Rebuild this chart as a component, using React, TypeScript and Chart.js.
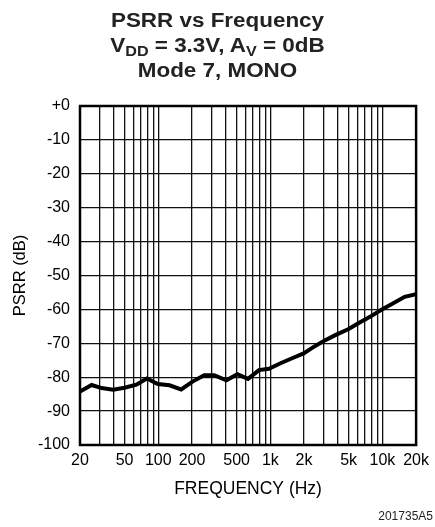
import React, { useEffect, useRef } from "react";
import { Chart, registerables } from "chart.js";

Chart.register(...registerables);

const FREQ_HZ = [20, 25.4, 31.2, 39.5, 50, 63.7, 79, 99, 126, 160, 202, 257, 315, 405, 508, 632, 791, 971, 1233, 1563, 1983, 2400, 3000, 3800, 5000, 6100, 7750, 9800, 12500, 15800, 20000];
const PSRR_DB = [-84.2, -82.3, -83.2, -83.7, -83.1, -82.2, -80.4, -82.0, -82.4, -83.6, -81.3, -79.4, -79.4, -80.9, -79.1, -80.5, -77.9, -77.5, -75.9, -74.4, -73.0, -71.2, -69.3, -67.6, -65.8, -64.1, -62.2, -60.1, -58.2, -56.3, -55.5];

const X_GRID_TICKS = [20, 30, 40, 50, 60, 70, 80, 90, 100, 200, 300, 400, 500, 600, 700, 800, 900, 1000, 2000, 3000, 4000, 5000, 6000, 7000, 8000, 9000, 10000, 20000];
const X_TICK_LABELS: Record<number, string> = {
  20: "20", 50: "50", 100: "100", 200: "200", 500: "500",
  1000: "1k", 2000: "2k", 5000: "5k", 10000: "10k", 20000: "20k",
};

const FONT = "'Liberation Sans', Arial, Helvetica, sans-serif";

const framePlugin = {
  id: "frame",
  afterDraw(chart: any) {
    const { ctx, chartArea } = chart;
    ctx.save();
    ctx.strokeStyle = "#000";
    ctx.lineWidth = 2.5;
    ctx.strokeRect(chartArea.left, chartArea.top, chartArea.right - chartArea.left, chartArea.bottom - chartArea.top);
    ctx.restore();
  },
};

export default function App() {
  const ref = useRef<HTMLCanvasElement>(null);
  useEffect(() => {
    if (!ref.current) return;
    const chart = new Chart(ref.current, {
      type: "line",
      data: {
        datasets: [
          {
            data: FREQ_HZ.map((f, i) => ({ x: f, y: PSRR_DB[i] })),
            borderColor: "#000",
            borderWidth: 4,
            pointRadius: 0,
            tension: 0,
            fill: false,
          },
        ],
      },
      plugins: [framePlugin],
      options: {
        animation: false,
        responsive: false,
        layout: { padding: { top: 106, right: 17, left: 0, bottom: 0 } },
        plugins: { legend: { display: false }, tooltip: { enabled: false }, title: { display: false } },
        scales: {
          x: {
            type: "logarithmic",
            min: 20,
            max: 20000,
            afterBuildTicks: (scale: any) => {
              scale.ticks = X_GRID_TICKS.map((v) => ({ value: v }));
            },
            afterFit: (scale: any) => {
              scale.height = 82;
            },
            ticks: {
              autoSkip: false,
              maxRotation: 0,
              minRotation: 0,
              padding: 6,
              color: "#000",
              font: { family: FONT, size: 16 },
              callback: (v: any) => X_TICK_LABELS[Number(v)] ?? "",
            },
            grid: { color: "#111", lineWidth: 1.3, drawTicks: false },
            border: { display: false },
            title: {
              display: true,
              text: "FREQUENCY (Hz)",
              color: "#000",
              font: { family: FONT, size: 17.5 },
              padding: { top: 0, bottom: 27 },
            },
          },
          y: {
            type: "linear",
            min: -100,
            max: 0,
            afterFit: (scale: any) => {
              scale.width = 80;
            },
            ticks: {
              stepSize: 10,
              padding: 10,
              color: "#000",
              font: { family: FONT, size: 16 },
              callback: (v: any) => (Number(v) === 0 ? "+0" : String(v)),
            },
            grid: { color: "#111", lineWidth: 1.3, drawTicks: false },
            border: { display: false },
            title: {
              display: true,
              text: "PSRR (dB)",
              color: "#000",
              font: { family: FONT, size: 16.5 },
              padding: { top: 11, bottom: 0 },
            },
          },
        },
      },
    } as any);
    return () => chart.destroy();
  }, []);

  const titleLine = (top: number, content: React.ReactNode) => (
    <div
      style={{
        position: "absolute",
        left: 0,
        top,
        width: 435,
        textAlign: "center",
        fontFamily: FONT,
        fontWeight: "bold",
        fontSize: 19.5,
        lineHeight: "19.5px",
        color: "#222",
        transform: "scaleX(1.15)",
        whiteSpace: "nowrap",
      }}
    >
      {content}
    </div>
  );
  const sub = (t: string) => (
    <span style={{ fontSize: "0.72em", position: "relative", top: "0.32em" }}>{t}</span>
  );

  return (
    <div style={{ position: "fixed", left: 0, top: 0, width: 435, height: 527, background: "#fff" }}>
      <canvas ref={ref} width={435} height={527} style={{ position: "absolute", left: 0, top: 0 }} />
      {titleLine(11, "PSRR vs Frequency")}
      {titleLine(36, <>V{sub("DD")} = 3.3V, A{sub("V")} = 0dB</>)}
      {titleLine(61, "Mode 7, MONO")}
      <div
        style={{
          position: "absolute",
          right: 2,
          top: 509,
          fontFamily: FONT,
          fontSize: 12,
          color: "#222",
          whiteSpace: "nowrap",
        }}
      >
        201735A5
      </div>
    </div>
  );
}
